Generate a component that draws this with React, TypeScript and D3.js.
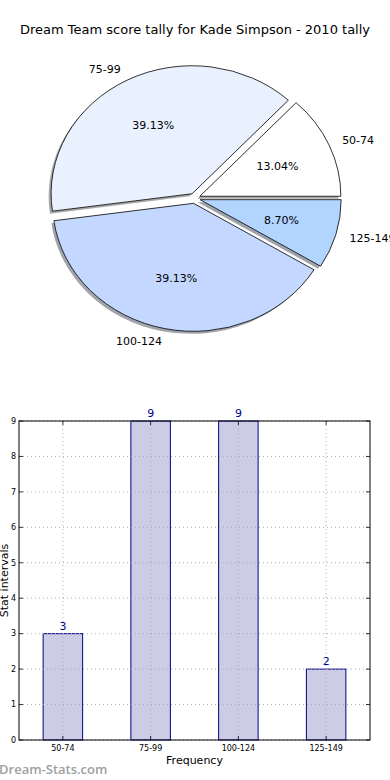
import * as d3 from 'd3';

const categories = ['50-74', '75-99', '100-124', '125-149'];
const counts = [3, 9, 9, 2];
const pieColors = ['#ffffff', '#eaf1fe', '#c4d8ff', '#b2d5ff'];
const yTicks = [0, 1, 2, 3, 4, 5, 6, 7, 8, 9];

const W = 390;
const H = 780;
const FONT = 'DejaVu Sans, sans-serif';

// pie geometry (slightly elliptical, like the original)
const cx = 194.7;
const cy = 198.3;
const rx = 141;
const ry = 128;
const explode = 0.04;

// bar chart frame
const bar = { left: 19, right: 370, top: 421, bottom: 740 };

const PieChart = () => {
  const total = d3.sum(counts);
  // start at 3 o'clock, go counter-clockwise
  const arcs = d3.pie<number>().sort(null)
    .startAngle(Math.PI / 2)
    .endAngle(Math.PI / 2 - 2 * Math.PI)(counts);
  const arcGen = d3.arc<d3.PieArcDatum<number>>().innerRadius(0).outerRadius(rx);

  const parts = arcs.map((a, i) => {
    const mid = (a.startAngle + a.endAngle) / 2;
    const ux = Math.sin(mid);
    const uy = -Math.cos(mid);
    const ox = ux * explode * rx;
    const oy = uy * explode * ry;
    const at = (k: number) => [cx + ox + ux * k * rx, cy + oy + uy * k * ry];
    return { a, i, ux, ox, oy, at };
  });

  return (
    <g>
      {parts.map(p => (
        <g key={'s' + p.i} transform={`translate(${cx + p.ox - 2.5},${cy + p.oy + 2.5}) scale(1,${ry / rx})`}>
          <path d={arcGen(p.a) ?? ''}
            fill={d3.rgb(pieColors[p.i]).darker(3).formatHex()} opacity={0.5} />
        </g>
      ))}
      {parts.map(p => (
        <g key={'w' + p.i} transform={`translate(${cx + p.ox},${cy + p.oy}) scale(1,${ry / rx})`}>
          <path d={arcGen(p.a) ?? ''} fill={pieColors[p.i]} stroke="#000"
            strokeWidth={0.8} vectorEffect="non-scaling-stroke" />
        </g>
      ))}
      {parts.map(p => {
        const [lx, ly] = p.at(1.1);
        const [px, py] = p.at(0.6);
        return (
          <g key={'t' + p.i} fontFamily={FONT} fontSize={11} fill="#000">
            <text x={lx} y={ly} dy="0.35em" textAnchor={p.ux >= 0 ? 'start' : 'end'}>
              {categories[p.i]}
            </text>
            <text x={px} y={py} dy="0.35em" textAnchor="middle">
              {((counts[p.i] / total) * 100).toFixed(2)}%
            </text>
          </g>
        );
      })}
    </g>
  );
};

const BarChart = () => {
  const x = d3.scaleLinear().domain([-0.5, categories.length - 0.5]).range([bar.left, bar.right]);
  const y = d3.scaleLinear().domain([0, 9]).range([bar.bottom, bar.top]);
  const bw = x(0.45) - x(0);
  const tick = 4;

  return (
    <g fontFamily={FONT}>
      {counts.map((v, i) => (
        <rect key={'b' + i} x={x(i) - bw / 2} y={y(v)} width={bw} height={y(0) - y(v)}
          fill="#ccccE4" stroke="#00008b" strokeWidth={1} />
      ))}
      {/* grid */}
      {yTicks.map(t => (
        <line key={'gy' + t} x1={bar.left} x2={bar.right} y1={y(t)} y2={y(t)}
          stroke="#aaa" strokeWidth={1} strokeDasharray="1,3" />
      ))}
      {categories.map((c, i) => (
        <line key={'gx' + c} x1={x(i)} x2={x(i)} y1={bar.top} y2={bar.bottom}
          stroke="#aaa" strokeWidth={1} strokeDasharray="1,3" />
      ))}
      {/* ticks inside on all sides */}
      {yTicks.map(t => (
        <g key={'ty' + t} stroke="#000" strokeWidth={0.8}>
          <line x1={bar.left} x2={bar.left + tick} y1={y(t)} y2={y(t)} />
          <line x1={bar.right} x2={bar.right - tick} y1={y(t)} y2={y(t)} />
        </g>
      ))}
      {categories.map((c, i) => (
        <g key={'tx' + c} stroke="#000" strokeWidth={0.8}>
          <line x1={x(i)} x2={x(i)} y1={bar.bottom} y2={bar.bottom - tick} />
          <line x1={x(i)} x2={x(i)} y1={bar.top} y2={bar.top + tick} />
        </g>
      ))}
      <rect x={bar.left} y={bar.top} width={bar.right - bar.left} height={bar.bottom - bar.top}
        fill="none" stroke="#000" strokeWidth={1} />
      {yTicks.map(t => (
        <text key={'ly' + t} x={bar.left - 3} y={y(t)} dy="0.35em" textAnchor="end" fontSize={8}>{t}</text>
      ))}
      {categories.map((c, i) => (
        <text key={'lx' + c} x={x(i)} y={bar.bottom + 11} textAnchor="middle" fontSize={8}>{c}</text>
      ))}
      {counts.map((v, i) => (
        <text key={'v' + i} x={x(i)} y={y(v) - 4} textAnchor="middle" fontSize={11} fill="#00008b">{v}</text>
      ))}
      <text x={(bar.left + bar.right) / 2} y={764} textAnchor="middle" fontSize={11}>Frequency</text>
      <text transform={`translate(8,${(bar.top + bar.bottom) / 2}) rotate(-90)`} textAnchor="middle" fontSize={11}>
        Stat intervals
      </text>
    </g>
  );
};

export default function App() {
  return (
    <svg width={W} height={H} style={{ position: 'absolute', left: 0, top: 0, background: '#fff' }}>
      <rect width={W} height={H} fill="#fff" />
      <text x={W / 2} y={34} textAnchor="middle" fontFamily={FONT} fontSize={13}>
        Dream Team score tally for Kade Simpson - 2010 tally
      </text>
      <PieChart />
      <BarChart />
      <text x={-1} y={774} fontFamily="'Open Sans', sans-serif" fontSize={13} fontWeight={600} fill="#a0a0a0">
        Dream-Stats.com
      </text>
    </svg>
  );
}
